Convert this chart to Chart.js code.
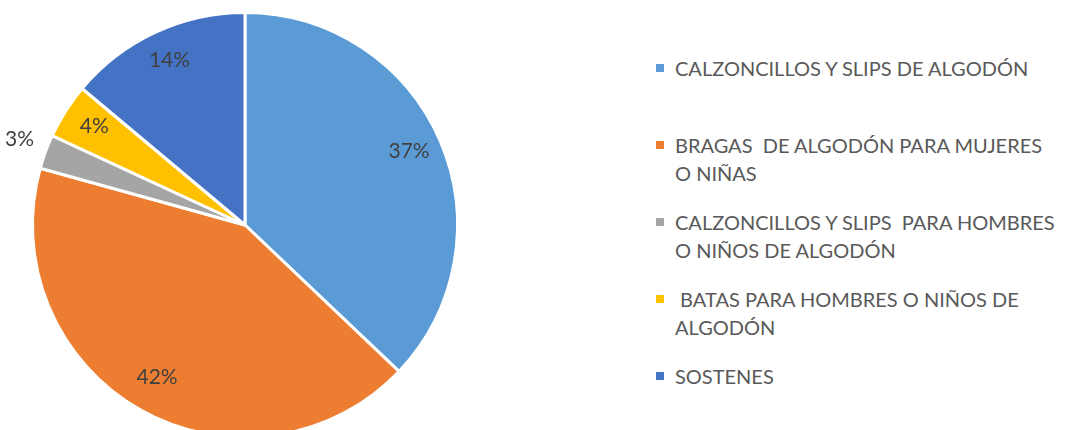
<!DOCTYPE html>
<html>
<head>
<meta charset="utf-8">
<script src="https://cdn.jsdelivr.net/npm/chart.js@4/dist/chart.umd.min.js"></script>
<style>
  html, body { margin: 0; padding: 0; background: #fff; width: 1068px; height: 430px; overflow: hidden; }
  #wrap { position: absolute; left: 0; top: 0; width: 490px; height: 450px; }
  #legend { position: absolute; left: 656px; top: 54px; width: 412px; font-family: Lato, "Open Sans", sans-serif; font-size: 20px; color: #595959; }
  .item { position: relative; height: 77px; }
  .sw { position: absolute; left: 0; top: 10px; width: 8px; height: 8px; }
  .txt { position: absolute; left: 19px; top: 0; line-height: 28px; white-space: pre; }
</style>
</head>
<body>
<div id="wrap"><canvas id="c"></canvas></div>
<div id="legend"></div>
<script>
const categories = [
  ["CALZONCILLOS Y SLIPS DE ALGODÓN"],
  ["BRAGAS  DE ALGODÓN PARA MUJERES", "O NIÑAS"],
  ["CALZONCILLOS Y SLIPS  PARA HOMBRES", "O NIÑOS DE ALGODÓN"],
  [" BATAS PARA HOMBRES O NIÑOS DE", "ALGODÓN"],
  ["SOSTENES"]
];
const values = [37.1, 42.2, 2.6, 4.2, 13.9];
const colors = ["#5B9BD5", "#ED7D31", "#A5A5A5", "#FFC000", "#4472C4"];

const labelPlugin = {
  id: 'pieLabels',
  afterDatasetsDraw(chart) {
    const ctx = chart.ctx;
    const meta = chart.getDatasetMeta(0);
    const data = chart.data.datasets[0].data;
    const total = data.reduce((a, b) => a + b, 0);
    ctx.save();
    ctx.font = '21px Lato, "Open Sans", sans-serif';
    ctx.fillStyle = '#404040';
    ctx.textAlign = 'center';
    ctx.textBaseline = 'middle';
    meta.data.forEach((arc, i) => {
      const p = arc.getProps(['x', 'y', 'startAngle', 'endAngle', 'outerRadius']);
      const mid = (p.startAngle + p.endAngle) / 2;
      const frac = data[i] / total;
      const rr = frac < 0.03 ? p.outerRadius * 1.13 : p.outerRadius * 0.84;
      const x = p.x + Math.cos(mid) * rr;
      const y = p.y + Math.sin(mid) * rr - 3;
      ctx.fillText(Math.round(frac * 100) + '%', x, y);
    });
    ctx.restore();
  }
};

const chart = new Chart(document.getElementById('c'), {
  type: 'pie',
  data: {
    labels: categories,
    datasets: [{
      data: values,
      backgroundColor: colors,
      borderColor: '#ffffff',
      borderWidth: 3
    }]
  },
  options: {
    responsive: true,
    maintainAspectRatio: false,
    animation: false,
    layout: { padding: { top: 11, bottom: 11, left: 0, right: 0 } },
    plugins: {
      legend: { display: false },
      tooltip: { enabled: false },
      title: { display: false }
    }
  },
  plugins: [labelPlugin]
});

const legend = document.getElementById('legend');
chart.data.labels.forEach((lab, i) => {
  const it = document.createElement('div');
  it.className = 'item';
  const sw = document.createElement('div');
  sw.className = 'sw';
  sw.style.background = chart.data.datasets[0].backgroundColor[i];
  const tx = document.createElement('div');
  tx.className = 'txt';
  tx.textContent = lab.join('\n');
  it.appendChild(sw);
  it.appendChild(tx);
  legend.appendChild(it);
});
</script>
</body>
</html>
